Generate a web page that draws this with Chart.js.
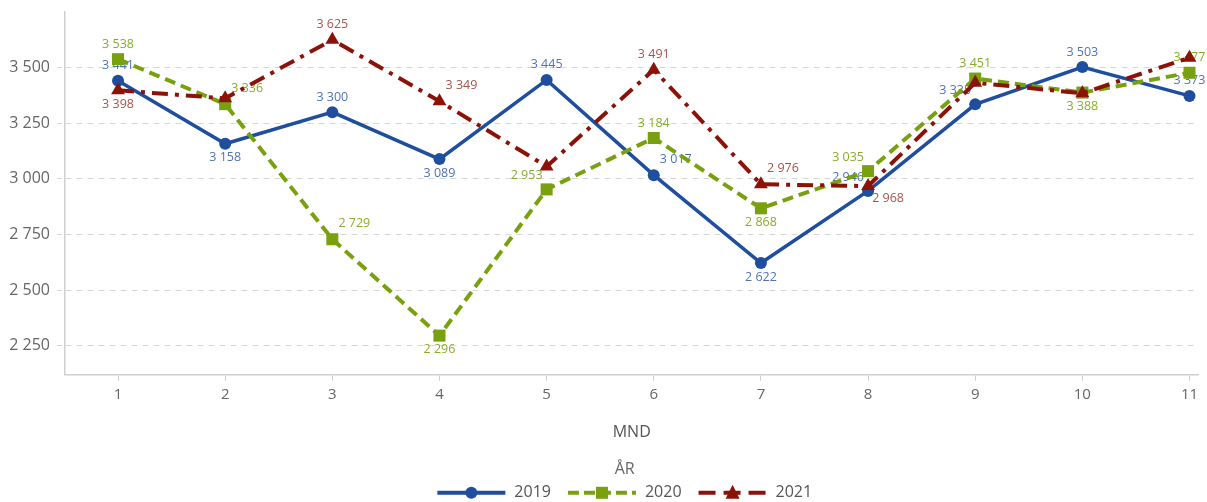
<!DOCTYPE html>
<html>
<head>
<meta charset="utf-8">
<script src="https://cdn.jsdelivr.net/npm/chart.js@4"></script>
<style>
  html, body { margin: 0; padding: 0; background: #fff; }
  #wrap { width: 1207px; height: 502px; position: relative; }
</style>
</head>
<body>
<div id="wrap"><canvas id="chart"></canvas></div>
<script>
// Monthly values per year
const months = [1, 2, 3, 4, 5, 6, 7, 8, 9, 10, 11];
const yearNames = ['2019', '2020', '2021'];
const values2019 = [3441, 3158, 3300, 3089, 3445, 3017, 2622, 2946, 3335, 3503, 3373];
const values2020 = [3538, 3336, 2729, 2296, 2953, 3184, 2868, 3035, 3451, 3388, 3477];
const values2021 = [3398, 3362, 3625, 3349, 3056, 3491, 2976, 2968, 3432, 3385, 3545];
const yTickValues = [2250, 2500, 2750, 3000, 3250, 3500];
const legendTitle = 'ÅR';

const FONT = '"Open Sans", "Noto Sans", sans-serif';

// Where each value label sits relative to its point (null = not shown)
const labelSpots = [
  ['top', 'bottom', 'top', 'bottom', 'top', 'tr', 'bottom', 'tl', 'tl', 'top', 'top'],
  ['top', 'tr', 'tr', 'bottom', 'tl', 'top', 'bottom', 'tl', 'top', 'bottom', 'top'],
  ['bottom', null, 'top', 'tr', null, 'top', 'tr', 'br', null, null, null]
];
const spotOffsets = { top: [0, -15], bottom: [0, 14], tr: [22, -16], tl: [-20, -14], br: [20, 12] };

const lineColors = ['#1f4e9e', '#79a00e', '#8c1208'];
const labelColors = ['#5073b5', '#8aac2e', '#a6544c'];
const dashes = [[], [11, 6], [16, 7, 4, 7]];
const markers = ['circle', 'rect', 'triangle'];

const fmt = v => String(v).replace(/\B(?=(\d{3})+(?!\d))/g, ' ');

const seriesValues = [values2019, values2020, values2021];

const datasets = yearNames.map((name, i) => ({
  label: name,
  data: months.map((m, j) => ({ x: m, y: seriesValues[i][j] })),
  borderColor: lineColors[i],
  backgroundColor: lineColors[i],
  borderWidth: i === 0 ? 3.5 : 4,
  borderDash: dashes[i],
  pointStyle: markers[i],
  pointRadius: i === 0 ? 6 : (i === 1 ? 8.5 : 8),
  pointHoverRadius: i === 0 ? 6 : 8,
  pointBorderWidth: 0,
  tension: 0,
  order: 3 - i,
  clip: false
}));

// Value labels next to each point, drawn beneath the lines and markers
const valueLabels = {
  id: 'valueLabels',
  beforeDatasetsDraw(chart) {
    const ctx = chart.ctx;
    ctx.save();
    ctx.font = '12.5px ' + FONT;
    ctx.textAlign = 'center';
    ctx.textBaseline = 'middle';
    chart.data.datasets.forEach((ds, i) => {
      const meta = chart.getDatasetMeta(i);
      meta.data.forEach((pt, j) => {
        const spot = labelSpots[i][j];
        if (!spot) return;
        const [dx, dy] = spotOffsets[spot];
        ctx.fillStyle = labelColors[i];
        ctx.fillText(fmt(ds.data[j].y), pt.x + dx, pt.y + dy);
      });
    });
    ctx.restore();
  }
};

// Legend below the axis title: a title line, then one line+marker swatch per year
const yearLegend = {
  id: 'yearLegend',
  afterDraw(chart) {
    const ctx = chart.ctx;
    const area = chart.chartArea;
    const cx = (area.left + area.right) / 2 - 7;
    const titleY = area.bottom + 95;
    const rowY = area.bottom + 118;
    ctx.save();
    ctx.font = '16px ' + FONT;
    ctx.textBaseline = 'middle';
    ctx.textAlign = 'center';
    ctx.fillStyle = '#666';
    ctx.fillText(legendTitle, cx, titleY);

    const swatchW = 68, textGap = 9, itemGap = 17;
    const widths = chart.data.datasets.map(ds => ctx.measureText(ds.label).width);
    const total = widths.reduce((a, w) => a + swatchW + textGap + w, 0) + itemGap * (widths.length - 1);
    let x = cx - total / 2;
    ctx.textAlign = 'left';
    chart.data.datasets.forEach((ds, i) => {
      ctx.strokeStyle = lineColors[i];
      ctx.fillStyle = lineColors[i];
      ctx.lineWidth = 4;
      ctx.setLineDash(i === 0 ? [] : (i === 1 ? [11, 5] : [17, 8]));
      ctx.beginPath(); ctx.moveTo(x, rowY); ctx.lineTo(x + swatchW, rowY); ctx.stroke();
      ctx.setLineDash([]);
      const mx = x + swatchW / 2;
      ctx.beginPath();
      if (i === 0) { ctx.arc(mx, rowY, 6, 0, Math.PI * 2); }
      else if (i === 1) { ctx.rect(mx - 6, rowY - 6, 12, 12); }
      else { ctx.moveTo(mx, rowY - 8); ctx.lineTo(mx + 7, rowY + 6); ctx.lineTo(mx - 7, rowY + 6); ctx.closePath(); }
      ctx.fill();
      ctx.fillStyle = '#555';
      ctx.fillText(ds.label, x + swatchW + textGap, rowY);
      x += swatchW + textGap + widths[i] + itemGap;
    });
    ctx.restore();
  }
};

new Chart(document.getElementById('chart'), {
  type: 'line',
  data: { datasets },
  plugins: [valueLabels, yearLegend],
  options: {
    responsive: true,
    maintainAspectRatio: false,
    animation: false,
    layout: { padding: { top: 12, left: 8, right: 0, bottom: 60 } },
    interaction: { mode: 'nearest', intersect: true },
    scales: {
      x: {
        type: 'linear',
        min: 0.505,
        max: 11.084,
        afterBuildTicks: s => { s.ticks = months.map(v => ({ value: v })); },
        ticks: { color: '#666', font: { family: FONT, size: 15 }, padding: 5, callback: v => String(v) },
        grid: { display: true, drawOnChartArea: false, drawTicks: true, tickLength: 6, color: '#cfcfcf' },
        border: { display: true, color: '#cfcfcf', width: 1.5 },
        title: { display: true, text: 'MND', color: '#555', font: { family: FONT, size: 16 }, padding: { top: 14, bottom: 0 } }
      },
      y: {
        min: 2120,
        max: 3750,
        afterBuildTicks: s => { s.ticks = yTickValues.map(v => ({ value: v })); },
        afterFit: s => { s.width = 57; s.paddingTop = 0; s.paddingBottom = 0; },
        ticks: { color: '#666', font: { family: FONT, size: 16 }, padding: 7, callback: v => fmt(v) },
        grid: { color: '#d6d6d6', lineWidth: 1, tickLength: 8, tickBorderDash: [5, 4] },
        border: { display: true, color: '#cfcfcf', width: 1.5, dash: [6, 5] }
      }
    },
    plugins: {
      tooltip: { enabled: true },
      legend: { display: false }
    }
  }
});
</script>
</body>
</html>
